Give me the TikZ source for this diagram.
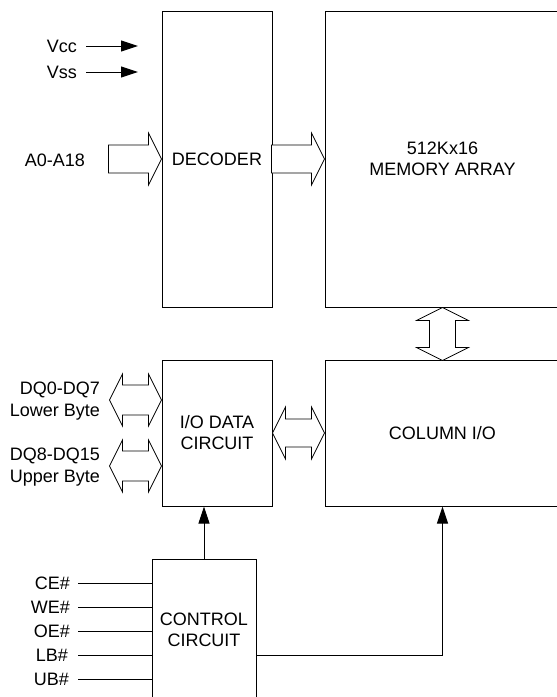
\documentclass[tikz,border=0pt]{standalone}
\usepackage{fontspec}
\setmainfont{Liberation Sans}
\usetikzlibrary{arrows.meta}
\begin{document}
\begin{tikzpicture}[x=1pt,y=-1pt,
  box/.style={draw,line width=1pt,inner sep=0pt,align=center,font=\fontsize{18}{21}\selectfont},
  lbl/.style={inner sep=0pt,font=\fontsize{18}{22}\selectfont,anchor=east,align=right},
  blk/.style={draw,line width=0.8pt,fill=white,line join=miter},
  wire/.style={draw,line width=1pt},
  arr/.style={wire,-{Triangle[length=17pt,width=11pt]}}]
\useasboundingbox (0,0) rectangle (557,697);
% blocks
\node[box,minimum width=110pt,minimum height=296pt] (dec) at (217,159) {DECODER};
\node[box,minimum width=235pt,minimum height=296pt] (mem) at (442.5,159) {512Kx16\\MEMORY ARRAY};
\node[box,minimum width=110pt,minimum height=146pt] (io) at (217,433) {I/O DATA\\CIRCUIT};
\node[box,minimum width=235pt,minimum height=146pt] (col) at (442.5,433) {COLUMN I/O};
\node[box,minimum width=104pt,minimum height=142pt] (ctrl) at (204,630) {CONTROL\\CIRCUIT};
% power inputs
\node[lbl] (vcc) at (77,46) {Vcc};
\node[lbl] (vss) at (77,72) {Vss};
\coordinate (vccs) at (86,46); \coordinate (vcce) at (138,46);
\coordinate (vsss) at (86,72); \coordinate (vsse) at (138,72);
\draw[arr] (vccs) -- (vcce);
\draw[arr] (vsss) -- (vsse);
% address bus
\node[lbl] (addr) at (85,160) {A0-A18};
\draw[blk,shift={(dec.west)}] (0,0) -- (-13,-26) -- (-13,-14) -- (-53,-14) -- (-53,14) -- (-13,14) -- (-13,26) -- cycle;
\draw[blk,shift={(mem.west)}] (0,0) -- (-13,-26) -- (-13,-14) -- (-53,-14) -- (-53,14) -- (-13,14) -- (-13,26) -- cycle;
% memory <-> column
\draw[blk,shift={(mem.south)}] (0,0) -- (26,13) -- (13,13) -- (13,40) -- (26,40) -- (0,53) -- (-26,40) -- (-13,40) -- (-13,13) -- (-26,13) -- cycle;
% io <-> column
\draw[blk,shift={(col.west)}] (0,0) -- (-13,-26) -- (-13,-14) -- (-39,-14) -- (-39,-26) -- (-52,0) -- (-39,26) -- (-39,14) -- (-13,14) -- (-13,26) -- cycle;
% data buses
\node[lbl] (dql) at (100,401.5) {DQ0-DQ7\\Lower Byte};
\node[lbl] (dqu) at (100,467.5) {DQ8-DQ15\\Upper Byte};
\draw[blk,shift={([yshift=33pt]io.west)}] (0,0) -- (-13,-26) -- (-13,-15) -- (-39,-15) -- (-39,-26) -- (-52,0) -- (-39,26) -- (-39,15) -- (-13,15) -- (-13,26) -- cycle;
\draw[blk,shift={([yshift=-33pt]io.west)}] (0,0) -- (-13,-26) -- (-13,-15) -- (-39,-15) -- (-39,-26) -- (-52,0) -- (-39,26) -- (-39,15) -- (-13,15) -- (-13,26) -- cycle;
% control outputs
\draw[arr] (ctrl.north) -- (ctrl.north |- io.south);
\draw[arr] ([yshift=-25pt]ctrl.east) -| (col.south);
% control inputs
\coordinate (ce) at (78,583);
\coordinate (we) at (78,607);
\coordinate (oe) at (78,631);
\coordinate (lb) at (78,655);
\coordinate (ub) at (78,679);
\node[lbl] (celbl) at (70,583) {CE\#};
\node[lbl] (welbl) at (70,607) {WE\#};
\node[lbl] (oelbl) at (70,631) {OE\#};
\node[lbl] (lblbl) at (68,655) {LB\#};
\node[lbl] (ublbl) at (69,679) {UB\#};
\draw[wire] (ce) -- (ce -| ctrl.west);
\draw[wire] (we) -- (we -| ctrl.west);
\draw[wire] (oe) -- (oe -| ctrl.west);
\draw[wire] (lb) -- (lb -| ctrl.west);
\draw[wire] (ub) -- (ub -| ctrl.west);
\end{tikzpicture}
\end{document}
